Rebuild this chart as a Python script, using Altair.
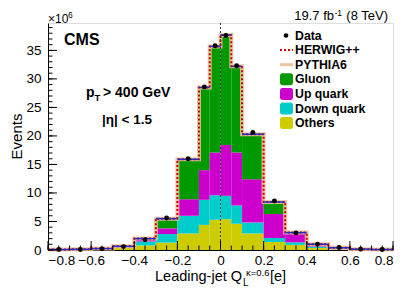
import altair as alt
import pandas as pd

# ---------------- data ----------------
edges = [-0.8, -0.7, -0.6, -0.5, -0.4, -0.3, -0.2, -0.1, -0.05, 0.0, 0.05, 0.1,
         0.2, 0.3, 0.4, 0.5, 0.6, 0.7, 0.8]
others = [0.05, 0.08, 0.15, 0.35, 0.8, 1.3, 2.9, 4.4, 5.3, 5.4, 4.6, 2.9, 1.4, 0.9, 0.35, 0.1, 0.03, 0.02]
down = [0.01, 0.02, 0.05, 0.15, 0.7, 1.5, 3.1, 4.4, 4.3, 4.1, 3.2, 1.9, 0.7, 0.45, 0.25, 0.05, 0.02, 0.01]
up = [0.01, 0.01, 0.03, 0.08, 0.3, 1.0, 2.9, 5.2, 7.5, 8.9, 9.3, 7.6, 4.2, 1.5, 0.35, 0.22, 0.09, 0.045]
gluon = [0.01, 0.01, 0.02, 0.07, 0.2, 1.7, 7.0, 14.5, 18.6, 19.3, 15.1, 7.9, 2.1, 0.2, 0.05, 0.03, 0.01, 0.005]
data_vals = [0.1, 0.1, 0.2, 0.6, 1.8, 5.6, 16.0, 28.6, 35.8, 37.6, 32.3, 20.6, 8.6, 3.0, 1.0, 0.45, 0.15, 0.1]
herwig = [0.08, 0.12, 0.25, 0.65, 2.0, 5.5, 15.9, 28.5, 35.7, 37.7, 32.2, 20.3, 8.4, 3.05, 1.0, 0.4, 0.15, 0.08]
pythia = [0.08, 0.12, 0.25, 0.65, 2.0, 5.5, 15.9, 28.5, 35.7, 37.7, 32.2, 20.3, 8.4, 3.05, 1.0, 0.4, 0.15, 0.08]

comp_names = ["Others", "Down quark", "Up quark", "Gluon"]
comp_colors = ["#cccc00", "#00cccc", "#cc00cc", "#009900"]
legend_labels = ["Data", "HERWIG++", "PYTHIA6", "Gluon", "Up quark", "Down quark", "Others"]

x_major = [-0.8, -0.6, -0.4, -0.2, 0.0, 0.2, 0.4, 0.6, 0.8]
x_minor = [round(-0.8 + 0.05 * i, 3) for i in range(33)]
y_major = [0, 5, 10, 15, 20, 25, 30, 35]
y_minor = list(range(0, 40))

# ---------------- tables ----------------
rows = []
nb = len(edges) - 1
for i in range(nb):
    base = 0.0
    for name, arr in zip(comp_names, [others, down, up, gluon]):
        rows.append({"lo": edges[i], "hi": edges[i + 1], "y0": base, "y1": base + arr[i], "comp": name})
        base += arr[i]
df_bars = pd.DataFrame(rows)

tot = [others[i] + down[i] + up[i] + gluon[i] for i in range(nb)]
df_top = pd.DataFrame({"lo": edges[:-1], "hi": edges[1:], "tot": tot})
df_step_h = pd.DataFrame({"x": edges, "v": herwig + [herwig[-1]]})
df_step_p = pd.DataFrame({"x": edges, "v": pythia + [pythia[-1]]})
df_data = pd.DataFrame({"x": [(edges[i] + edges[i + 1]) / 2 for i in range(nb)], "v": data_vals})

W, H = 345, 227
FONT = "Liberation Sans"
xs = alt.Scale(domain=[-0.8, 0.8], nice=False, zero=False)
ys = alt.Scale(domain=[0, 39.8], nice=False, zero=True)
xaxis = alt.Axis(values=x_major, title=None, ticks=False, grid=False, labelFontSize=13.5,
                 labelPadding=3, labelColor="#000", domainColor="#000",
                 labelExpr="datum.value == 0 ? '0' : format(datum.value, '.1f')")
yaxis = alt.Axis(values=y_major, title=None, ticks=False, grid=False, labelFontSize=13.5,
                 labelPadding=7, labelColor="#000", domainColor="#000", format="d")


def X(f):
    return alt.X(f, type="quantitative", scale=xs, axis=xaxis)


def Y(f):
    return alt.Y(f, type="quantitative", scale=ys, axis=yaxis)


bars = alt.Chart(df_bars).mark_rect().encode(
    x=X("lo"), x2="hi", y=Y("y0"), y2="y1",
    color=alt.Color("comp:N", scale=alt.Scale(domain=comp_names, range=comp_colors), legend=None),
)
pyth = alt.Chart(df_step_p).mark_line(interpolate="step-after", color="#ebc49b", strokeWidth=4, opacity=0.9).encode(
    x=X("x"), y=Y("v"))
herw = alt.Chart(df_step_h).mark_line(interpolate="step-after", color="#cc0000", strokeWidth=2,
                                      strokeDash=[2, 2]).encode(x=X("x"), y=Y("v"))
toprule = alt.Chart(df_top).mark_rule(color="#2a2acc", strokeWidth=1.5).encode(x=X("lo"), x2="hi", y=Y("tot"))
zero = alt.Chart(pd.DataFrame({"z": [0.0]})).mark_rule(color="#333", strokeDash=[2, 2], strokeWidth=1).encode(x=X("z"))
pts = alt.Chart(df_data).mark_circle(color="#000", size=24, opacity=1).encode(x=X("x"), y=Y("v"))

ytm = alt.Chart(pd.DataFrame({"t": y_major})).mark_rule(color="#000").encode(
    y=Y("t"), x=alt.value(0), x2=alt.value(9))
ytn = alt.Chart(pd.DataFrame({"t": y_minor})).mark_rule(color="#000").encode(
    y=Y("t"), x=alt.value(0), x2=alt.value(4.5))
xtm = alt.Chart(pd.DataFrame({"t": x_major})).mark_rule(color="#000").encode(
    x=X("t"), y=alt.value(H), y2=alt.value(H - 9))
xtn = alt.Chart(pd.DataFrame({"t": x_minor})).mark_rule(color="#000").encode(
    x=X("t"), y=alt.value(H), y2=alt.value(H - 4.5))

one = pd.DataFrame({"a": [0]})


def txt(s, x, y, size, bold=False, align="left", baseline="alphabetic", angle=0):
    kw = dict(text=s, fontSize=size, font=FONT, align=align, baseline=baseline, color="#000",
              fontWeight="bold" if bold else "normal")
    if angle:
        kw["angle"] = angle
    return alt.Chart(one).mark_text(**kw).encode(x=alt.value(x), y=alt.value(y))


texts = [
    txt("CMS", 16, 22, 16, bold=True),
    txt("×10", 0, -0.5, 12),
    txt("6", 20, -5.5, 8.5),
    txt("19.7 fb", 286, -3, 13, align="right"),
    txt("-1", 286.5, -7.5, 8.5),
    txt("(8 TeV)", 340, -3, 13, align="right"),
    txt("p", 38, 74, 14, bold=True),
    txt("T", 46.5, 77.5, 9.5, bold=True),
    txt("> 400 GeV", 55, 74, 14, bold=True),
    txt("|η| < 1.5", 54, 101, 13.5, bold=True),
    txt("Events", -31, H / 2, 15, align="center", baseline="middle", angle=270),
    txt("Leading-jet Q", 107, 258, 14.5),
    txt("κ=0.6", 198, 253, 9.5),
    txt("L", 195, 262.5, 10),
    txt("[e]", 222, 258, 14.5),
]

# legend (layout positions)
leg_y0, leg_dy = 12.5, 14.6
lx0, lx1, ltx = 232, 245, 247
legend_layers = []
for i, lab in enumerate(legend_labels):
    yy = leg_y0 + leg_dy * i
    legend_layers.append(txt(lab, ltx, yy, 12.3, bold=True, baseline="middle"))
legend_layers.append(alt.Chart(one).mark_circle(color="#000", size=22, opacity=1).encode(
    x=alt.value(238), y=alt.value(leg_y0)))
legend_layers.append(alt.Chart(one).mark_rule(color="#cc0000", strokeWidth=2, strokeDash=[2, 2]).encode(
    x=alt.value(lx0), x2=alt.value(lx1), y=alt.value(leg_y0 + leg_dy)))
legend_layers.append(alt.Chart(one).mark_rule(color="#ebc49b", strokeWidth=3).encode(
    x=alt.value(lx0), x2=alt.value(lx1), y=alt.value(leg_y0 + 2 * leg_dy)))
for j, (lab, col) in enumerate(zip(["Gluon", "Up quark", "Down quark", "Others"],
                                   ["#009900", "#cc00cc", "#00cccc", "#cccc00"])):
    yy = leg_y0 + leg_dy * (3 + j)
    legend_layers.append(alt.Chart(one).mark_rect(color=col, cornerRadius=2.5).encode(
        x=alt.value(lx0), x2=alt.value(lx1), y=alt.value(yy - 6), y2=alt.value(yy + 6)))

chart = alt.layer(
    bars, pyth, herw, toprule, zero, pts, ytm, ytn, xtm, xtn, *texts, *legend_layers
).properties(
    width=W, height=H,
    autosize=alt.AutoSizeParams(type="none"),
    padding={"left": 40, "top": 15, "right": 8, "bottom": 36},
).configure_view(stroke="#888", strokeWidth=1).configure(font=FONT)

chart.save("out.html", embed_options={"renderer": "svg", "actions": False})
